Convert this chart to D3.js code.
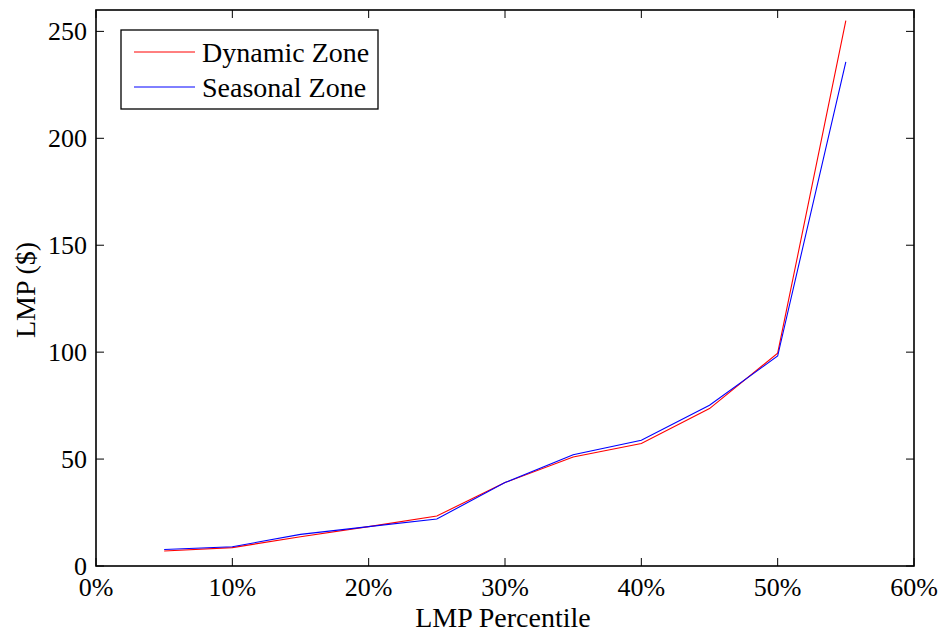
<!DOCTYPE html>
<html>
<head>
<meta charset="utf-8">
<script src="https://cdn.jsdelivr.net/npm/d3@7/dist/d3.min.js"></script>
<style>
  html, body { margin: 0; padding: 0; background: #fff; }
  svg { display: block; }
  text { font-family: "Liberation Serif", "Times New Roman", serif; fill: #000; }
</style>
</head>
<body>
<svg id="chart" width="938" height="633"></svg>
<script>
// LMP by percentile, two zone definitions
const percentiles = [0.05, 0.10, 0.15, 0.20, 0.25, 0.30, 0.35, 0.40, 0.45, 0.50, 0.55];
const dynamicZone  = [7.0, 8.6, 13.7, 18.4, 23.4, 39.0, 51.0, 57.3, 73.6, 99.5, 255.0];
const seasonalZone = [7.7, 9.0, 14.8, 18.4, 22.0, 39.0, 52.0, 58.8, 75.2, 98.2, 235.8];
const xTicks = [0, 0.1, 0.2, 0.3, 0.4, 0.5, 0.6];
const yTicks = [0, 50, 100, 150, 200, 250];
const seriesNames = ["Dynamic Zone", "Seasonal Zone"];
const seriesColors = ["#ff0000", "#0000ff"];

const svg = d3.select("#chart");
const plotLeft = 96, plotRight = 914, plotTop = 10, plotBottom = 566;

const x = d3.scaleLinear().domain([0, 0.6]).range([plotLeft, plotRight]);
const y = d3.scaleLinear().domain([0, 260]).range([plotBottom, plotTop]);

const tickFont = 26;
const labelFont = 28;
const tickLen = 8;

// inward ticks on all four sides
const g = svg.append("g");
xTicks.forEach(t => {
  g.append("line").attr("x1", x(t)).attr("x2", x(t)).attr("y1", plotBottom).attr("y2", plotBottom - tickLen)
    .attr("stroke", "#000").attr("stroke-width", 1);
  g.append("line").attr("x1", x(t)).attr("x2", x(t)).attr("y1", plotTop).attr("y2", plotTop + tickLen)
    .attr("stroke", "#000").attr("stroke-width", 1);
  g.append("text").attr("x", x(t)).attr("y", plotBottom + 30).attr("text-anchor", "middle")
    .attr("font-size", tickFont).text(d3.format(".0%")(t));
});
yTicks.forEach(t => {
  g.append("line").attr("x1", plotLeft).attr("x2", plotLeft + tickLen).attr("y1", y(t)).attr("y2", y(t))
    .attr("stroke", "#000").attr("stroke-width", 1);
  g.append("line").attr("x1", plotRight).attr("x2", plotRight - tickLen).attr("y1", y(t)).attr("y2", y(t))
    .attr("stroke", "#000").attr("stroke-width", 1);
  g.append("text").attr("x", plotLeft - 9).attr("y", y(t)).attr("dy", "0.34em").attr("text-anchor", "end")
    .attr("font-size", tickFont).text(t);
});

// plot box
svg.append("rect").attr("x", plotLeft).attr("y", plotTop).attr("width", plotRight - plotLeft).attr("height", plotBottom - plotTop)
  .attr("fill", "none").attr("stroke", "#000").attr("stroke-width", 1.6);

// series lines
const line = d3.line().x((d, i) => x(percentiles[i])).y(d => y(d));
[dynamicZone, seasonalZone].forEach((s, k) => {
  svg.append("path").datum(s).attr("d", line).attr("fill", "none")
    .attr("stroke", seriesColors[k]).attr("stroke-width", 1.1);
});

// axis labels
svg.append("text").attr("x", 503).attr("y", 627).attr("text-anchor", "middle")
  .attr("font-size", labelFont).text("LMP Percentile");
svg.append("text").attr("transform", `translate(35, 290) rotate(-90)`)
  .attr("text-anchor", "middle").attr("font-size", labelFont).text("LMP ($)");

// legend
const lg = svg.append("g");
lg.append("rect").attr("x", 121).attr("y", 30).attr("width", 257).attr("height", 79)
  .attr("fill", "#fff").attr("stroke", "#000").attr("stroke-width", 1.3);
seriesNames.forEach((name, i) => {
  const ly = 52 + i * 35;
  lg.append("line").attr("x1", 134).attr("x2", 195).attr("y1", ly).attr("y2", ly)
    .attr("stroke", seriesColors[i]).attr("stroke-width", 1);
  lg.append("text").attr("x", 202).attr("y", ly).attr("dy", "0.34em").attr("font-size", labelFont).text(name);
});
</script>
</body>
</html>
